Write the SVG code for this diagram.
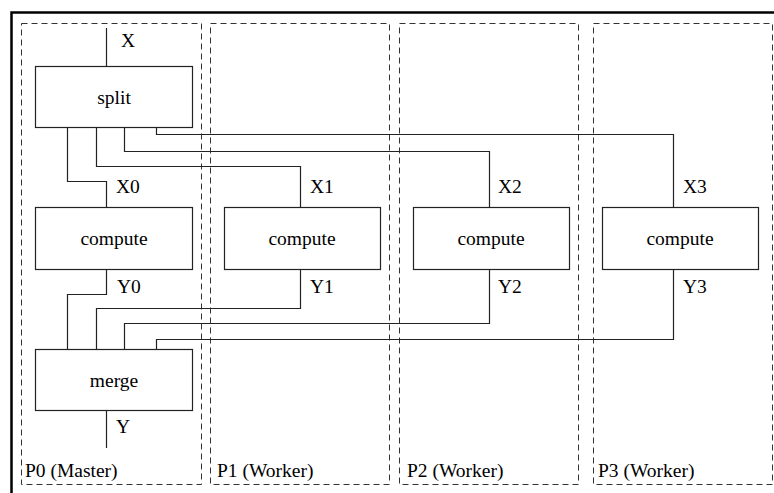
<svg xmlns="http://www.w3.org/2000/svg" width="774" height="493" viewBox="0 0 774 493">
  <style>
    .frame { fill: none; stroke: #000; stroke-width: 2.5; }
    .lane { fill: none; stroke: #333; stroke-width: 1; stroke-dasharray: 6 4; }
    .box { fill: #fff; stroke: #222; stroke-width: 1.2; }
    .wire { fill: none; stroke: #222; stroke-width: 1.2; }
    text { font-size: 19.5px; fill: #000; }
    .mid { text-anchor: middle; }
  </style>
  <rect width="774" height="493" fill="#fff"/>
  <rect class="frame" x="11.5" y="12.5" width="800" height="520"/>

  <g font-family="'Liberation Serif', 'DejaVu Serif', serif">
    <!-- process lanes -->
    <g id="lane-p0"><rect class="lane" x="21.5" y="23.5" width="180" height="461"/><text x="25" y="477">P0 (Master)</text></g>
    <g id="lane-p1"><rect class="lane" x="210.5" y="23.5" width="179" height="461"/><text x="217" y="477">P1 (Worker)</text></g>
    <g id="lane-p2"><rect class="lane" x="399.5" y="23.5" width="179" height="461"/><text x="407" y="477">P2 (Worker)</text></g>
    <g id="lane-p3"><rect class="lane" x="593.5" y="23.5" width="179" height="461"/><text x="598" y="477">P3 (Worker)</text></g>

    <!-- connectors -->
    <g id="connectors">
      <path class="wire" d="M106.5 28 V66"/>
      <path class="wire" d="M67.5 127 V181.5 H106.5 V207"/>
      <path class="wire" d="M96.5 127 V166.5 H300.5 V207"/>
      <path class="wire" d="M124.5 127 V151.5 H489.5 V207"/>
      <path class="wire" d="M156.5 127 V134.5 H673.5 V207"/>
      <path class="wire" d="M106.5 269 V294.5 H67.5 V349"/>
      <path class="wire" d="M300.5 269 V308.5 H96.5 V349"/>
      <path class="wire" d="M489.5 269 V323.5 H124.5 V349"/>
      <path class="wire" d="M673.5 269 V339.5 H156.5 V349"/>
      <path class="wire" d="M106.5 410 V448"/>
      <text x="121" y="47">X</text>
      <text x="116" y="193">X0</text>
      <text x="310" y="193">X1</text>
      <text x="498" y="193">X2</text>
      <text x="683" y="193">X3</text>
      <text x="117" y="293">Y0</text>
      <text x="310" y="293">Y1</text>
      <text x="498" y="293">Y2</text>
      <text x="683" y="293">Y3</text>
      <text x="116" y="433">Y</text>
    </g>

    <!-- blocks -->
    <g id="split"><rect class="box" x="35.5" y="66.5" width="157" height="61"/><text class="mid" x="114" y="104">split</text></g>
    <g id="compute0"><rect class="box" x="35.5" y="207.5" width="157" height="62"/><text class="mid" x="114" y="245">compute</text></g>
    <g id="compute1"><rect class="box" x="224.5" y="207.5" width="156" height="62"/><text class="mid" x="302" y="245">compute</text></g>
    <g id="compute2"><rect class="box" x="413.5" y="207.5" width="156" height="62"/><text class="mid" x="491" y="245">compute</text></g>
    <g id="compute3"><rect class="box" x="602.5" y="207.5" width="156" height="62"/><text class="mid" x="680" y="245">compute</text></g>
    <g id="merge"><rect class="box" x="35.5" y="349.5" width="157" height="61"/><text class="mid" x="114" y="387">merge</text></g>
  </g>
</svg>
